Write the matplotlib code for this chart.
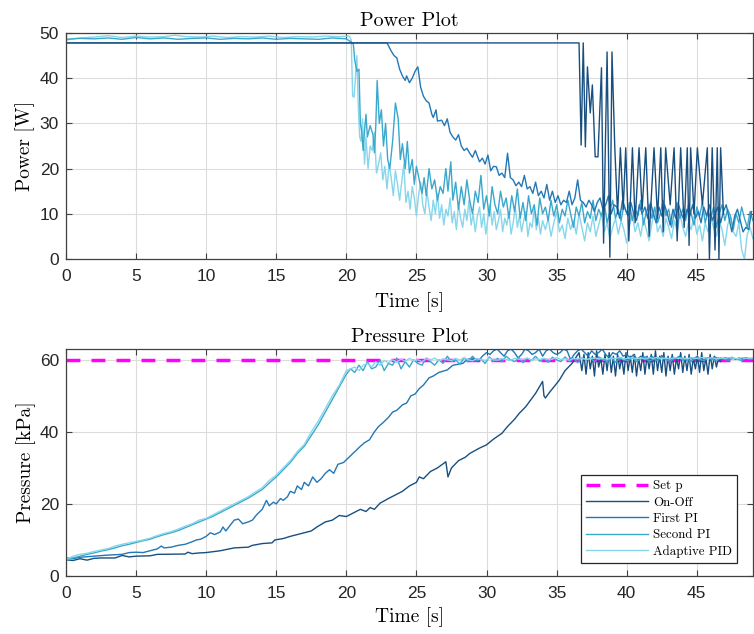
import numpy as np
import matplotlib
matplotlib.use("Agg")
import matplotlib.pyplot as plt

# ---------------- data ----------------
# Power [W] -- On-Off
pw_onoff_t = [0.0, 36.6, 36.75, 36.9, 37.05, 37.2, 37.4, 37.55, 37.75, 37.95, 38.2, 38.35, 38.6, 38.8,
              38.95, 39.15, 39.35, 39.55, 39.75, 39.93, 40.15, 40.41, 40.6, 40.88, 41.1, 41.36, 41.6,
              41.95, 42.2, 42.43, 42.6, 42.78, 43.1, 43.38, 43.6, 43.85, 44.1, 44.32, 44.45, 44.56,
              44.8, 45.04, 45.4, 45.75, 45.9, 46.1, 46.3, 46.46, 46.58, 46.7, 46.9]
pw_onoff_v = [47.8, 47.8, 25.2, 47.8, 24.8, 42.5, 32.3, 38.5, 22.6, 22.6, 42.3, 3.5, 45.8, 0.4,
              45.8, 24.6, 10, 24.6, 11, 24.6, 4, 24.6, 8, 24.6, 11, 24.6, 5,
              24.6, 9, 24.6, 6, 24.6, 12, 24.6, 4, 24.6, 7, 24.6, 3, 24.6,
              10, 24.6, 12, 24.6, 0, 24.6, 2, 24.6, 0, 24.6, 10]

# Power [W] -- First PI (irregular part then uniformly sampled tail)
pw_first_t = [0.0, 22.9, 23.2, 23.4, 23.6, 23.8, 24.0, 24.2, 24.3, 24.5, 24.7, 24.9, 25.1, 25.3, 25.5,
              25.7, 25.9, 26.1, 26.2, 26.4, 26.5, 26.8, 27.0, 27.2, 27.4, 27.6, 27.8, 28.0, 28.2,
              28.4, 28.6, 28.8, 29.0, 29.2, 29.5, 29.7, 29.9]
pw_first_v = [47.8, 47.8, 46, 45, 44.5, 42, 40.5, 39.5, 40.5, 39, 40, 41.5, 42.5, 38, 36,
              35, 34.5, 32, 31.3, 33, 30.5, 30.7, 29.5, 31, 28, 27, 26.3, 27.5, 25,
              24, 24.5, 23.4, 22.5, 24, 21.5, 22.3, 21]
pw_first_tail_start = 30.1
pw_first_tail_step = 0.2
pw_first_tail = [23, 19.5, 20.5, 20.4, 18.5, 19, 18, 23.4, 18, 17.5, 16.2, 17, 16, 18.5, 15.5, 16,
                 14.5, 17, 14, 15, 13.5, 16.5, 13, 15, 12.5, 14, 12, 13, 12.5, 15, 12, 13.5, 17.5,
                 13, 12.5, 11.5, 13, 12, 10.5, 12.5, 13.5, 11, 12, 14, 10, 12, 11.5, 9, 13, 11,
                 9.5, 12.5, 10, 8.5, 12, 10, 11.5, 9, 12.5, 10, 8, 11.5, 9.5, 12, 10, 7.5, 11, 9,
                 12, 10, 8.5, 11, 9.5, 12, 9, 10.5, 8, 11.5, 9.5, 12, 8.5, 10, 11.5, 8, 10.5, 12,
                 9, 6, 9.5, 11, 8.5, 6, 7, 6.5, 10.5]

# Power [W] -- Second PI
pw_second_t = [0.0, 1.0, 2.0, 3.0, 4.0, 5.0, 6.0, 7.0, 8.0, 9.0, 10.0, 11.0, 12.0, 13.0, 14.0, 15.0,
               16.0, 17.0, 18.0, 19.0, 20.0, 20.35, 20.5, 20.6, 20.75, 20.9, 21.0, 21.1, 21.2, 21.3,
               21.4, 21.5, 21.7, 21.9, 22.0, 22.1, 22.2, 22.35, 22.5, 22.65, 22.8, 22.95, 23.1,
               23.3, 23.5, 23.7, 23.85, 24.0, 24.2, 24.35, 24.5, 24.7, 24.85, 25.0, 25.2, 25.4,
               25.55, 25.7, 25.9, 26.1, 26.3, 26.5, 26.7, 26.9, 27.1, 27.25, 27.45, 27.6, 27.8]
pw_second_v = [48.6, 48.8, 48.7, 48.9, 48.6, 49.0, 48.7, 48.9, 48.6, 48.8, 48.9, 48.6, 48.8, 48.7,
               48.9, 48.6, 48.8, 48.7, 48.6, 48.9, 48.7, 48.0, 47.5, 44, 41.5, 42, 30, 28, 24, 28.5,
               32, 27, 29.5, 27.5, 23.5, 29.5, 39.5, 30, 33, 25, 30, 22, 20,
               26, 34.5, 31, 22, 25.5, 20, 26, 19, 22, 16.5, 20.5, 17.5, 14.5,
               18, 14, 20, 15.5, 17.5, 13, 16, 14.5, 20, 15, 21.5, 13, 17]
pw_second_tail_start = 28.0
pw_second_tail_step = 0.2
pw_second_tail = [11, 16, 12, 17.5, 13, 10, 15, 12.5, 18.5, 11, 14, 9.5, 16, 12, 10, 15, 11.5, 13.5,
                  9, 14, 10.5, 15.5, 9, 12.5, 8.5, 14, 10, 12, 7.5, 13.5, 10, 11.5, 8.5, 13, 9.5,
                  12, 8, 11, 9.5, 13, 10, 7, 11.5, 9.5, 12.5, 8, 10.5, 9, 13, 8.5, 11, 9.5, 12.5,
                  8, 10.5, 13, 9, 11, 8.5, 12, 10, 12.5, 8.5, 11, 9.5, 13, 7.5, 10.5, 12, 9, 11.5,
                  8, 10, 13, 9.5, 11, 7, 10.5, 12.5, 9, 11, 8.5, 12, 10, 7.5, 11.5, 9.5, 12.5, 8,
                  10.5, 9, 11.5, 7, 10, 12, 8.5, 11, 9.5, 6.5, 10, 8, 11.5, 9, 7, 10.5, 8.5]

# Power [W] -- Adaptive PID
pw_adapt_t = [0.0, 0.5, 1.0, 2.0, 3.0, 3.5, 4.0, 5.0, 6.0, 7.0, 7.8, 8.5, 9.5, 10.5, 11.5, 12.5,
              13.5, 14.5, 15.5, 16.5, 17.5, 18.5, 19.5, 20.2, 20.35, 20.45, 20.55, 20.65, 20.75,
              20.85, 20.95, 21.05, 21.15, 21.3, 21.4, 21.55, 21.7, 21.85, 22.0, 22.15, 22.3,
              22.45, 22.6, 22.75, 22.9, 23.05, 23.2, 23.35, 23.5, 23.65, 23.8, 23.95, 24.1,
              24.25, 24.4, 24.55, 24.7, 24.85, 25.0, 25.15, 25.3, 25.45, 25.6, 25.75, 25.9,
              26.05, 26.2, 26.35, 26.5, 26.65, 26.8, 26.95, 27.1, 27.25, 27.4, 27.55, 27.7,
              27.85, 28.0, 28.15, 28.3, 28.45, 28.6, 28.75, 28.9, 29.05, 29.2, 29.35, 29.5,
              29.65, 29.8, 29.95, 30.1, 30.25, 30.4, 30.55, 30.7, 30.85, 31.0, 31.15, 31.3,
              31.45, 31.6, 31.75, 31.9, 32.05, 32.2, 32.35, 32.5, 32.65, 32.8, 32.95, 33.1,
              33.25, 33.4, 33.55, 33.7, 33.85, 34.0]
pw_adapt_v = [48.4, 48.7, 48.9, 49.1, 49.4, 49.2, 49.0, 49.3, 49.1, 49.2, 49.5, 49.2, 49.1, 49.3,
              49.0, 49.2, 49.1, 49.3, 49.0, 49.2, 49.1, 49.3, 49.2, 49.3, 48.5, 36, 35.8, 40,
              45, 34, 27, 26, 31, 21, 27, 20, 25, 24, 28, 19, 21,
              23.5, 17.5, 20.5, 15.5, 21, 18, 14, 19.5, 16.5, 13, 17, 21,
              12.5, 15, 11, 16, 13.5, 9.5, 14, 17, 12, 10, 15, 11.5,
              8.5, 13, 10, 14.5, 9, 12, 7.5, 11, 9.5, 13.5, 8, 10.5,
              6.5, 12, 9, 7, 11, 8.5, 13, 7.5, 10, 6, 9.5, 11.5,
              7, 10, 5.5, 9, 12, 7.5, 10.5, 6.5, 8.5, 11, 6, 9,
              7.5, 10.5, 5.5, 8, 11.5, 7, 9.5, 6, 8.5, 10.5, 5, 8,
              7, 11, 6.5, 9, 5.5, 8.5]
pw_adapt_tail_start = 34.2
pw_adapt_tail_step = 0.2
pw_adapt_tail = [6.5, 9, 5, 8, 10.5, 6, 7.5, 4.5, 9, 6.5, 8.5, 5.5, 10, 7, 4, 8, 6, 9.5, 5, 7.5, 10,
                 6, 8, 4.5, 7, 9, 5.5, 8.5, 6.5, 3.5, 7.5, 10, 6, 8, 5, 9, 6.5, 4, 8, 10.5, 6, 7.5,
                 5, 9, 7, 4.5, 8.5, 6, 10, 7, 5, 8, 6.5, 9.5, 5.5, 7.5, 4, 8, 6, 9, 7, 5, 8.5, 6.5,
                 3, 7.5, 9.5, 6, 5, 8, 2, 0, 5.5, 7, 4.5]

# Pressure [kPa]
set_p = 60.0

pr_onoff_t = [0.0, 0.5, 1.0, 1.5, 2.0, 2.5, 3.5, 4.0, 4.5, 5.0, 6.0, 6.5, 8.5, 8.7, 9.0, 9.5, 10.0,
              11.0, 12.0, 13.0, 13.3, 14.0, 14.7, 14.9, 15.5, 16.0, 16.5, 17.0, 17.5, 17.9, 18.5,
              19.0, 19.5, 20.0, 20.5, 21.0, 21.4, 21.7, 22.0, 22.4, 23.0, 23.5, 24.0, 24.5, 25.0,
              25.2, 25.5, 26.0, 26.5, 27.1, 27.25, 27.5, 28.0, 28.5, 28.8, 29.5, 30.0, 30.5, 31.1,
              31.5, 32.0, 32.3, 32.8, 33.5, 34.0, 34.1, 34.2, 34.5, 35.2, 35.6, 36.1, 36.6]
pr_onoff_v = [4.5, 4.3, 4.8, 4.4, 4.9, 5.0, 5.0, 5.7, 5.3, 5.5, 5.6, 6.0, 6.1, 6.6, 6.2, 6.4, 6.5,
              7.0, 7.8, 8.0, 8.5, 9.0, 9.2, 10.0, 10.4, 11.0, 11.5, 12.0, 12.5, 13.6, 15.0,
              15.5, 16.8, 16.5, 17.5, 18.5, 17.9, 19.0, 18.5, 20.2, 21.5, 22.5, 23.5, 25.0, 26.0,
              27.5, 27.0, 29.0, 30.0, 31.7, 27.5, 30.0, 32.0, 33.0, 34.0, 35.5, 36.4, 38.0, 39.6,
              41.5, 43.5, 45.0, 47.0, 50.7, 54.0, 50.0, 49.4, 51.0, 54.4, 57.0, 59.0, 62.0]
pr_onoff_tail_start = 36.8
pr_onoff_tail_step = 0.15
pr_onoff_tail = [57, 61.5, 56, 62, 57.5, 61, 55.5, 62.5, 58, 60.5, 56, 61.5, 57, 62, 56.5, 61, 55.5,
                 61.5, 57.5, 60.5, 56, 62, 57, 61, 56.5, 61.5, 55.5, 60.5, 57, 62, 56, 61, 57.5,
                 61.5, 56, 62.5, 57, 61, 56.5, 62, 55.5, 61, 57, 61.5, 56, 60.5, 57.5, 62, 56.5,
                 61, 57, 61.5, 56, 60.5, 57.5, 61, 56.5, 62, 57, 60.5, 56, 61.5, 57.5, 61, 58,
                 60.5, 59.5]

pr_first_t = [0.0, 0.5, 1.0, 2.0, 3.0, 4.0, 4.5, 5.0, 5.5, 6.0, 6.5, 6.8, 7.0, 7.5, 8.0, 8.5, 9.0,
              9.3, 9.6, 10.0, 10.3, 10.6, 11.0, 11.2, 11.4, 11.7, 12.0, 12.3, 12.6, 13.0, 13.3,
              13.6, 14.0, 14.3, 14.5, 14.8, 15.0, 15.3, 15.5, 15.8, 16.0, 16.3, 16.5, 16.8, 17.0,
              17.3, 17.6, 17.9, 18.2, 18.5, 18.8, 19.1, 19.4, 19.8, 20.2, 20.6, 21.0, 21.3, 21.65,
              22.0, 22.3, 22.6, 23.0, 23.3, 23.6, 24.0, 24.3, 24.6, 24.9, 25.2, 25.5, 25.9, 26.2,
              26.6, 27.2, 27.6, 28.0, 28.3, 28.6, 29.0, 29.4, 29.7]
pr_first_v = [5.0, 4.8, 5.2, 5.5, 5.8, 6.0, 6.5, 6.6, 6.5, 7.0, 7.5, 8.3, 7.8, 8.0, 8.5, 8.8, 9.5,
              10.0, 10.2, 11.0, 12.0, 11.5, 12.2, 13.6, 12.5, 14.0, 15.5, 15.8, 14.5, 15.0, 15.5,
              17.0, 18.5, 21.0, 19.5, 20.5, 20.0, 21.5, 21.0, 22.0, 23.5, 23.0, 25.0, 24.0, 26.0,
              25.0, 27.5, 26.0, 27.0, 28.5, 29.5, 28.5, 31.0, 31.5, 33.0, 34.5, 36.0, 37.0, 37.8,
              40.0, 41.5, 42.5, 44.0, 45.5, 46.0, 47.5, 48.0, 50.0, 50.5, 52.0, 53.0, 55.0, 55.5,
              56.5, 57.2, 58.5, 58.8, 59.0, 60.0, 60.5, 59.5, 61.0]
pr_first_tail_start = 30.0
pr_first_tail_step = 0.25
pr_first_tail = [62, 61.5, 62.5, 63, 62, 61, 62.5, 63, 62, 60.5, 61.5, 63, 62.5, 61.5, 62, 63, 61,
                 62.5, 63, 62, 61.5, 62, 63, 62.5, 60, 61.5, 62.5, 63, 62, 61, 62.5, 61.5, 62, 63,
                 61.5, 60.5, 62, 61.5, 62.5, 61, 61.5,
                 60.5, 61.5, 60, 61, 60.5, 59.8, 61, 60.5, 60, 61.2, 60.3, 59.8, 60.8, 60.2, 61,
                 60.4, 59.9, 60.7, 60.2, 60.9, 60.3, 59.9, 60.6, 60.2, 60.8, 60.4, 60, 60.6, 60.3,
                 60.7, 60.1, 60.5, 60.3, 60.6, 60.2, 60.4]

pr_second_t = [0.0, 0.5, 1.0, 1.5, 2.0, 2.5, 3.0, 3.5, 4.0, 4.5, 5.0, 5.5, 6.0, 6.5, 7.0, 7.5, 8.0,
               8.5, 9.0, 9.5, 10.0, 10.5, 11.0, 11.5, 12.0, 12.5, 13.0, 13.5, 14.0, 14.5, 15.0,
               15.5, 16.0, 16.5, 17.0, 17.5, 18.0, 18.5, 19.0, 19.5, 20.0]
pr_second_v = [4.8, 5.0, 5.5, 6.0, 6.4, 6.9, 7.3, 7.8, 8.4, 8.8, 9.3, 9.8, 10.2, 10.9, 11.5, 12.0,
               12.6, 13.4, 14.2, 15.0, 15.8, 16.6, 17.6, 18.6, 19.6, 20.6, 21.6, 22.8, 24.0, 25.8,
               27.5, 29.5, 31.5, 34.0, 36.0, 39.0, 42.0, 45.5, 49.0, 52.5, 56.0]
pr_second_tail_start = 20.3
pr_second_tail_step = 0.3
pr_second_tail = [57.5, 56.5, 58.5, 57, 59.5, 57.5, 58, 60, 57, 59, 58.5, 60.5, 57.5, 59.5, 58, 60,
                  59, 58.5, 60.5, 59.5, 58.5, 60, 59, 61, 59.5, 60, 58.8, 60.5, 59.5, 61, 59.8,
                  60.2, 59, 60.8, 59.6, 60.4, 59.4, 61, 60, 59.5, 60.6, 59.2, 60.4, 59.8, 61, 59.6,
                  60.3, 59.3, 60.7, 60, 59.5, 60.8, 59.6, 60.4, 59.2, 60.6, 59.9, 60.5, 59.4, 60.8,
                  60, 59.6, 60.5, 59.3, 60.4, 60, 59.7, 60.6, 59.5, 60.3, 60.9, 59.6, 60.2, 59.8,
                  60.6, 60.1, 59.5, 60.4, 60.8, 59.9, 60.3, 59.6, 60.5, 60.1, 59.8, 60.4, 60.2,
                  59.7, 60.6, 60.1, 59.9, 60.4, 60.2, 59.8, 60.5, 60.1, 60.3]

pr_adapt_t = pr_second_t
pr_adapt_v = [4.5, 5.5, 6.0, 6.3, 6.8, 7.2, 7.6, 8.3, 8.8, 9.2, 9.6, 10.0, 10.5, 11.2, 11.8, 12.3,
              13.0, 13.8, 14.5, 15.5, 16.0, 17.0, 18.0, 19.0, 20.0, 21.0, 22.0, 23.3, 24.5, 26.5,
              28.0, 30.0, 32.0, 34.5, 36.5, 40.0, 43.0, 46.5, 50.0, 53.0, 57.0]
pr_adapt_tail_start = 20.3
pr_adapt_tail_step = 0.3
pr_adapt_tail = [57.5, 58, 57, 58.5, 59, 58, 59.5, 58.5, 59.8, 59.2, 60, 59.4, 60.2, 59.6, 60.4, 59.8,
                 60, 59.5, 60.3, 59.9, 60.5, 59.7, 60.2, 60, 59.8, 60.4, 59.9, 60.6, 60, 59.7, 60.3,
                 60.1, 59.8, 60.5, 60, 59.9, 60.3, 60.1, 59.8, 60.4, 60.2, 60, 60.5, 59.9, 60.3,
                 60.1, 60.4, 60, 60.2, 60.6, 60.1, 60.3, 59.9, 60.4, 60.2, 60.5, 60.1, 60.3, 60.6,
                 60.2, 60.4, 60.1, 60.5, 60.3, 60.7, 60.2, 60.4, 60.6, 60.3, 60.5, 60.2, 60.6, 60.4,
                 60.7, 60.3, 60.5, 60.2, 60.6, 60.4, 60.5, 60.3, 60.6, 60.4, 60.5, 60.7, 60.4,
                 60.6, 60.3, 60.5, 60.4, 60.6, 60.5, 60.3, 60.6, 60.4, 60.5, 60.4]

labels = ["Set p", "On-Off", "First PI", "Second PI", "Adaptive PID"]
colors = {"set": "#ff00ff", "onoff": "#194f80", "first": "#2277b5",
          "second": "#3aa8cc", "adapt": "#86d6ec"}

x_ticks = [0, 5, 10, 15, 20, 25, 30, 35, 40, 45]
pw_ticks = [0, 10, 20, 30, 40, 50]
pr_ticks = [0, 20, 40, 60]


def join(t, v, t0=None, dt=None, tail=None):
    t = list(t)
    v = list(v)
    if tail is not None:
        t += list(t0 + dt * np.arange(len(tail)))
        v += list(tail)
    return np.array(t), np.array(v)


# ---------------- figure ----------------
fig = plt.figure(figsize=(7.54, 6.34), dpi=100)
ax1 = fig.add_axes([0.0875, 0.5915, 0.911, 0.3565])
ax2 = fig.add_axes([0.0875, 0.0915, 0.911, 0.358])

serif = "cmr10"
spine_c = "#404040"

for ax in (ax1, ax2):
    ax.set_xlim(0, 49)
    ax.set_xticks(x_ticks)
    ax.grid(True, color="#dcdcdc", linewidth=0.8)
    ax.set_axisbelow(True)
    ax.tick_params(direction="in", top=True, right=True, length=4, width=0.8,
                   colors=spine_c, labelcolor="#262626", labelsize=12.5)
    ax.tick_params(axis="x", pad=7)
    ax.tick_params(axis="y", pad=5)
    for s in ax.spines.values():
        s.set_color(spine_c)
        s.set_linewidth(0.9)

lw = 1.0
# power
t, v = join(pw_adapt_t, pw_adapt_v, pw_adapt_tail_start, pw_adapt_tail_step, pw_adapt_tail)
ax1.plot(t, v, color=colors["adapt"], lw=lw)
t, v = join(pw_second_t, pw_second_v, pw_second_tail_start, pw_second_tail_step, pw_second_tail)
ax1.plot(t, v, color=colors["second"], lw=lw)
t, v = join(pw_first_t, pw_first_v, pw_first_tail_start, pw_first_tail_step, pw_first_tail)
ax1.plot(t, v, color=colors["first"], lw=lw)
t, v = join(pw_onoff_t, pw_onoff_v)
ax1.plot(t, v, color=colors["onoff"], lw=lw)
ax1.set_ylim(0, 50)
ax1.set_yticks(pw_ticks)
ax1.set_title("Power Plot", fontfamily=serif, fontsize=14.5, pad=5)
ax1.set_xlabel("Time [s]", fontfamily=serif, fontsize=14, labelpad=6)
ax1.set_ylabel("Power [W]", fontfamily=serif, fontsize=14, labelpad=3)

# pressure
ax2.plot([0, 49], [set_p, set_p], color=colors["set"], lw=2.5, ls=(0, (4, 3.2)), label=labels[0])
t, v = join(pr_onoff_t, pr_onoff_v, pr_onoff_tail_start, pr_onoff_tail_step, pr_onoff_tail)
ax2.plot(t, v, color=colors["onoff"], lw=lw, label=labels[1])
t, v = join(pr_first_t, pr_first_v, pr_first_tail_start, pr_first_tail_step, pr_first_tail)
ax2.plot(t, v, color=colors["first"], lw=lw, label=labels[2])
t, v = join(pr_second_t, pr_second_v, pr_second_tail_start, pr_second_tail_step, pr_second_tail)
ax2.plot(t, v, color=colors["second"], lw=lw, label=labels[3])
t, v = join(pr_adapt_t, pr_adapt_v, pr_adapt_tail_start, pr_adapt_tail_step, pr_adapt_tail)
ax2.plot(t, v, color=colors["adapt"], lw=lw, label=labels[4])
ax2.set_ylim(0, 63)
ax2.set_yticks(pr_ticks)
ax2.set_title("Pressure Plot", fontfamily=serif, fontsize=14.5, pad=5)
ax2.set_xlabel("Time [s]", fontfamily=serif, fontsize=14, labelpad=5)
ax2.set_ylabel("Pressure [kPa]", fontfamily=serif, fontsize=14, labelpad=3)

for ax in (ax1, ax2):
    for lab in ax.get_xticklabels() + ax.get_yticklabels():
        lab.set_fontfamily("Liberation Sans")

leg = ax2.legend(loc="lower right", bbox_to_anchor=(0.977, 0.057), prop={"family": serif, "size": 9.3},
                 frameon=True, fancybox=False, edgecolor="#262626", framealpha=1,
                 handlelength=4.8, handletextpad=0.35, labelspacing=0.32, borderpad=0.4,
                 borderaxespad=0)
leg.get_frame().set_linewidth(0.9)

fig.savefig("out.png", dpi=100)
